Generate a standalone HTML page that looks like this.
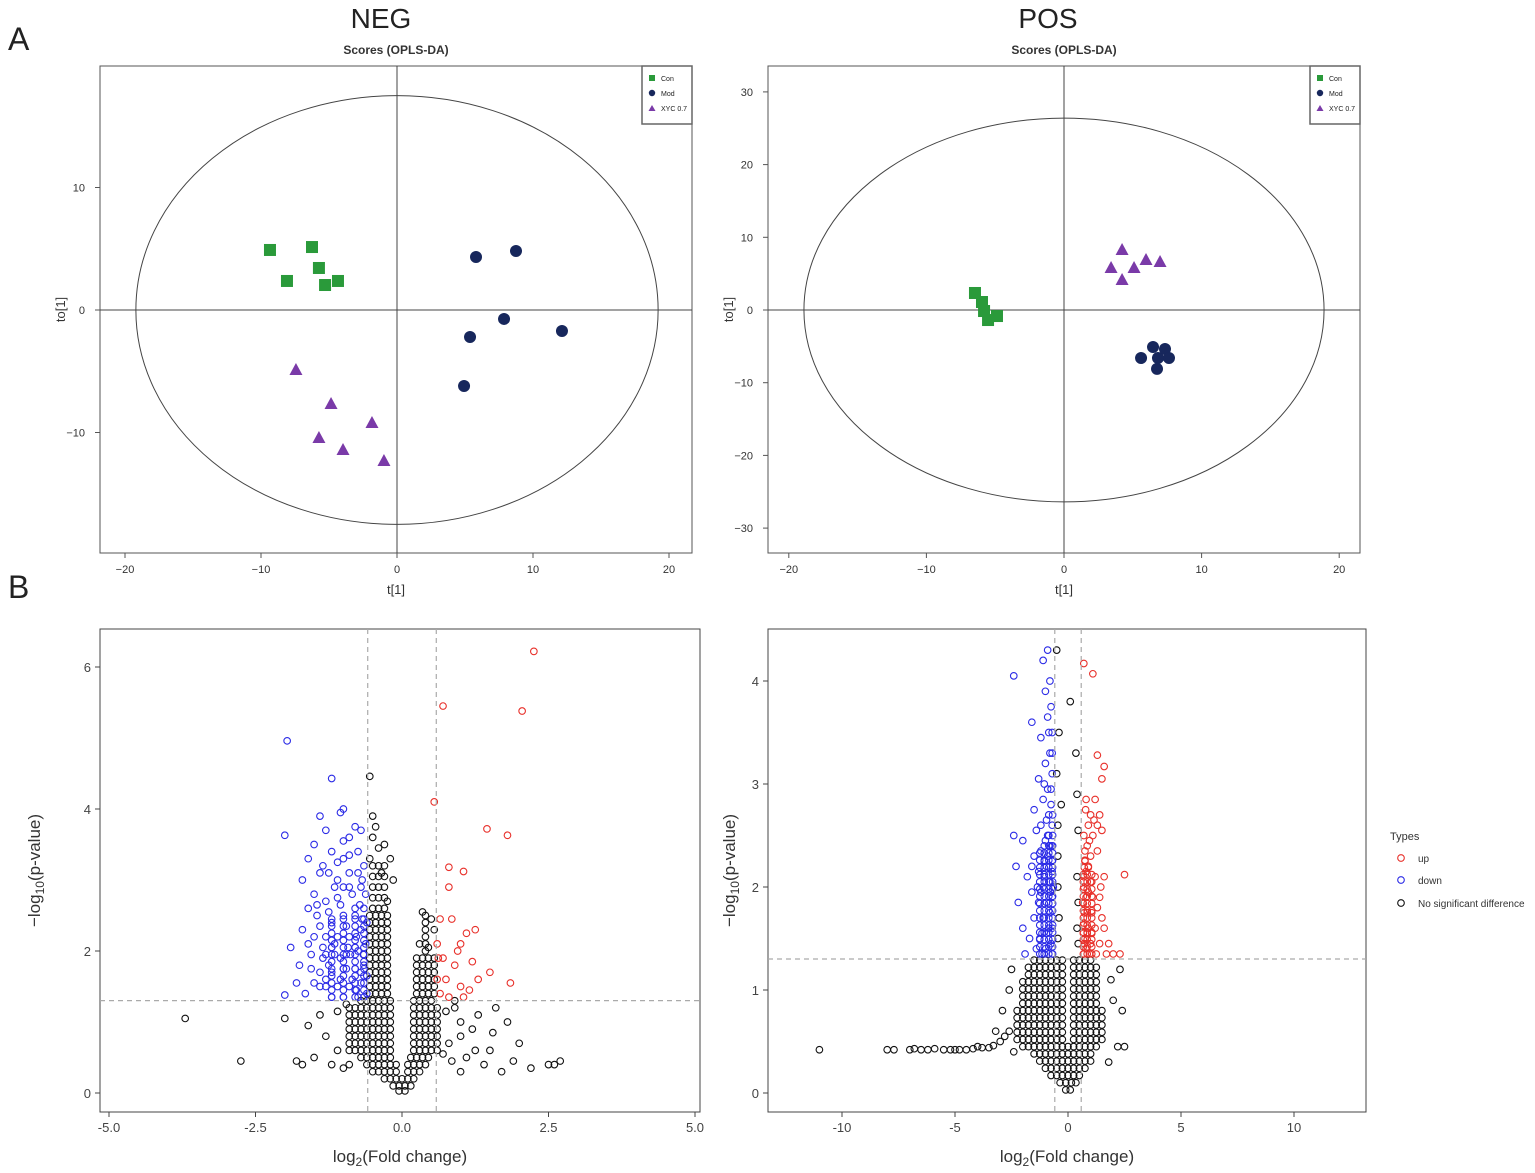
<!DOCTYPE html>
<html><head><meta charset="utf-8"><style>
body{margin:0;background:#fff;}
svg{display:block;font-family:"Liberation Sans",Arial,sans-serif;}
</style></head><body>
<svg id="fig" width="1535" height="1173" viewBox="0 0 1535 1173"></svg>
<script>
// ---------- DATA ----------
const negConX=[-9.34,-6.25,-8.09,-5.74,-5.29,-4.34];
const negConY=[4.9,5.14,2.37,3.43,2.04,2.37];
const negModX=[5.81,8.75,7.87,12.13,5.37,4.93];
const negModY=[4.33,4.82,-0.73,-1.71,-2.2,-6.2];
const negXycX=[-7.43,-4.85,-5.74,-3.97,-1.84,-0.96];
const negXycY=[-4.9,-7.67,-10.45,-11.43,-9.22,-12.33];
const negXTicks=[-20,-10,0,10,20];
const negYTicks=[-10,0,10];
const posConX=[-6.47,-5.96,-5.81,-4.87,-5.52];
const posConY=[2.34,1.1,-0.14,-0.83,-1.38];
const posModX=[5.6,6.47,7.34,6.83,7.63,6.76];
const posModY=[-6.6,-5.09,-5.36,-6.6,-6.6,-8.1];
const posXycX=[3.42,4.22,5.09,5.96,6.98,4.22];
const posXycY=[5.78,8.25,5.78,6.88,6.6,4.13];
const posXTicks=[-20,-10,0,10,20];
const posYTicks=[-30,-20,-10,0,10,20,30];
// Volcano NEG (flat x,y pairs)
const vnRed=[2.25,6.22,0.7,5.45,2.05,5.38,0.55,4.1,1.45,3.72,1.8,3.63,0.8,3.18,1.05,3.12,0.8,2.9,1.25,2.3,0.65,2.45,0.85,2.45,1.1,2.25,1.0,2.1,0.6,2.1,0.7,1.9,0.9,1.8,1.2,1.85,0.75,1.6,1.0,1.5,1.3,1.6,0.6,1.6,0.65,1.4,1.05,1.35,0.8,1.35,1.5,1.7,1.85,1.55,1.15,1.45,0.62,1.9,0.95,2.0];
const vnBlue=[-1.96,4.96,-1.2,4.43,-2.0,3.63,-1.0,4.0,-1.05,3.95,-1.4,3.9,-0.8,3.75,-0.7,3.7,-0.9,3.6,-1.3,3.7,-1.5,3.5,-1.6,3.3,-1.2,3.4,-1.0,3.3,-0.75,3.4,-0.65,3.2,-0.9,3.1,-1.1,3.0,-1.4,3.1,-1.7,3.0,-1.5,2.8,-1.3,2.7,-1.1,2.75,-0.85,2.8,-0.7,2.9,-0.65,2.6,-0.8,2.5,-1.0,2.5,-1.2,2.4,-1.45,2.5,-1.6,2.6,-1.7,2.3,-1.5,2.2,-1.3,2.2,-1.1,2.2,-0.9,2.2,-0.7,2.3,-0.62,2.1,-0.75,2.0,-0.95,1.95,-1.15,1.95,-1.35,1.9,-1.55,1.95,-1.9,2.05,-1.4,1.7,-1.2,1.7,-1.0,1.75,-0.8,1.75,-0.65,1.8,-0.7,1.55,-0.9,1.5,-1.1,1.5,-1.3,1.5,-1.5,1.55,-1.8,1.55,-2.0,1.38,-1.65,1.4,-1.0,1.35,-0.75,1.35,-1.2,1.35,-0.6,1.4,-0.85,1.6,-1.05,1.9,-0.8,2.05,-0.95,2.35,-1.25,2.55,-0.72,2.65,-1.15,2.9,-0.9,2.9,-1.35,3.2,-1.0,3.55,-1.25,3.1,-0.68,3.0,-0.6,2.4,-0.6,1.65,-1.75,1.8,-1.6,2.1,-1.4,2.35,-1.05,2.65,-0.78,2.2,-0.66,1.95,-0.88,1.95,-1.3,1.95,-0.62,2.8,-1.15,2.1,-1.35,2.05,-1.05,1.6,-0.78,1.45,-0.95,1.75,-1.25,1.8,-0.68,2.45,-0.8,2.6,-1.0,2.9,-1.1,3.25,-0.75,3.1,-0.9,3.35,-1.45,2.65,-1.2,2.05,-0.92,2.05,-0.7,1.7,-1.4,1.5,-1.55,1.75,-1.3,1.6];
const vnBlack=[-3.7,1.05,-2.75,0.45,-2.0,1.05,-1.7,0.4,-1.6,0.95,-1.3,0.8,-1.5,0.5,-1.2,0.4,-1.4,1.1,-1.1,0.6,-0.9,0.4,1.0,0.8,1.5,0.6,1.8,1.0,2.2,0.35,2.5,0.4,2.6,0.4,2.7,0.45,1.3,1.1,1.1,0.5,1.7,0.3,0.9,1.2,2.0,0.7,1.2,0.9,1.4,0.4,1.6,1.2,0.85,0.45,1.9,0.45,1.0,0.3,-1.0,0.35,-1.8,0.45,1.55,0.85,1.25,0.6,-0.55,4.46,-0.5,3.9,-0.45,3.75,-0.5,3.6,-0.4,3.45,-0.3,3.5,-0.55,3.3,-0.35,3.1,0.35,2.55,0.5,2.45,0.9,1.3,1.0,1.0,-0.95,1.25,-1.1,1.15,-0.2,3.3,-0.15,3.0,-0.25,2.7,0.3,2.1,0.45,2.05,0.55,2.3,0.75,1.15,0.8,0.7,0.7,0.55];
const vnRowA=[-0.9,-0.8,-0.7,-0.6,-0.5,-0.4,-0.3,-0.2,0.2,0.3,0.4,0.5,0.6];
const vnRowB=[-0.55,-0.45,-0.35,-0.25,0.25,0.35,0.45,0.55];
const vnRowC=[-0.55,-0.45,-0.35,-0.25,0.4];
const vnRowD=[-0.5,-0.4,-0.3];
const vnCoreY=[0.03,0.1,0.2,0.3,0.4,0.5,0.6,0.7,0.8,0.9,1.0,1.1,1.2,1.3,1.4,1.5,1.6,1.7,1.8,1.9,2.0,2.1,2.2,2.3,2.4,2.5,2.6,2.75,2.9,3.05,3.2];
const vnCoreX=[[-0.05,0.05],[-0.15,-0.05,0.05,0.15],[-0.3,-0.2,-0.1,0,0.1,0.2],[-0.5,-0.4,-0.3,-0.2,-0.1,0.1,0.2,0.3],[-0.6,-0.5,-0.4,-0.3,-0.2,-0.1,0.1,0.2,0.3,0.4],[-0.7,-0.6,-0.5,-0.4,-0.3,-0.2,0.15,0.25,0.35,0.45],vnRowA,vnRowA,vnRowA,vnRowA,vnRowA,vnRowA,vnRowA,[-0.7,-0.6,-0.5,-0.4,-0.3,-0.2,0.2,0.3,0.4,0.5],vnRowB,vnRowB,vnRowB,vnRowB,vnRowB,vnRowB,vnRowC,vnRowC,vnRowC,vnRowC,vnRowC,vnRowC,vnRowD,vnRowD,vnRowD,vnRowD,vnRowD];
const vnBlueRow=[-1.2,-1.0,-0.8,-0.65];
const vnBlueCoreY=[1.35,1.45,1.55,1.65,1.75,1.85,1.95,2.05,2.15,2.25,2.35,2.45];
const vnBlueCoreX=[vnBlueRow,vnBlueRow,vnBlueRow,vnBlueRow,vnBlueRow,vnBlueRow,vnBlueRow,vnBlueRow,vnBlueRow,vnBlueRow,vnBlueRow,vnBlueRow];
// Volcano POS
const vpRed=[0.7,4.17,1.1,4.07,1.3,3.28,1.6,3.17,1.5,3.05,0.8,2.85,1.2,2.85,1.0,2.7,1.4,2.7,0.9,2.6,1.3,2.6,0.7,2.5,1.1,2.5,1.5,2.55,0.75,2.35,1.0,2.3,1.3,2.35,2.5,2.12,0.8,2.15,1.2,2.1,1.6,2.1,0.7,2.0,0.9,1.95,1.1,1.9,1.4,1.9,0.65,1.85,0.85,1.75,1.05,1.75,1.3,1.8,0.7,1.65,0.9,1.6,1.2,1.6,1.6,1.6,0.75,1.5,1.0,1.45,1.4,1.45,1.8,1.45,0.7,1.35,0.95,1.35,1.25,1.35,1.7,1.35,2.0,1.35,2.3,1.35,0.8,1.9,0.75,2.25,1.0,2.05,1.15,2.65,0.85,2.4,1.45,2.0,1.5,1.7,0.68,1.55,0.8,1.4,0.72,1.75,0.9,2.2,0.78,2.75,0.95,2.45,0.7,2.1,0.85,1.55,1.05,1.55,0.72,1.45];
const vpBlue=[-0.9,4.3,-1.1,4.2,-2.4,4.05,-0.8,4.0,-1.0,3.9,-1.6,3.6,-0.9,3.65,-0.7,3.5,-1.2,3.45,-0.8,3.3,-1.0,3.2,-0.7,3.1,-1.3,3.05,-0.9,2.95,-1.1,2.85,-0.75,2.8,-1.5,2.75,-0.95,2.65,-1.2,2.6,-0.7,2.6,-1.4,2.55,-2.4,2.5,-2.0,2.45,-1.0,2.45,-0.8,2.4,-1.2,2.35,-1.5,2.3,-0.7,2.25,-0.95,2.2,-1.3,2.15,-1.8,2.1,-0.8,2.05,-1.1,2.0,-1.6,1.95,-0.7,1.9,-0.95,1.85,-1.3,1.85,-2.2,1.85,-0.8,1.75,-1.1,1.7,-1.5,1.7,-2.0,1.6,-0.7,1.6,-0.95,1.55,-1.25,1.5,-1.7,1.5,-0.75,1.45,-1.0,1.4,-1.4,1.4,-1.9,1.35,-0.7,1.35,-1.15,1.35,-0.85,1.6,-0.9,2.3,-1.05,3.0,-0.75,3.75,-1.35,2.0,-1.05,2.1,-0.85,2.7,-1.6,2.2,-2.3,2.2,-1.15,1.55,-0.65,2.0,-0.7,2.15,-0.72,2.4,-0.68,2.7,-0.75,2.95,-0.7,3.3,-0.85,3.5,-0.9,2.5,-0.78,1.95,-1.05,2.25,-1.2,1.95];
const vpBlack=[-11.0,0.42,-8.0,0.42,-7.7,0.42,-7.0,0.42,-6.8,0.43,-6.5,0.42,-6.2,0.42,-5.9,0.43,-5.5,0.42,-5.2,0.42,-5.0,0.42,-4.8,0.42,-4.5,0.42,-4.2,0.43,-4.0,0.45,-3.8,0.44,-3.5,0.44,-3.3,0.46,-3.0,0.5,-2.8,0.55,-2.6,0.6,-2.5,1.2,-2.9,0.8,1.9,1.1,2.2,0.45,2.5,0.45,2.4,0.8,2.0,0.9,2.3,1.2,-0.5,4.3,0.1,3.8,-0.4,3.5,0.35,3.3,-0.5,3.1,0.4,2.9,-0.3,2.8,-0.45,2.6,0.45,2.55,-0.45,2.3,0.4,2.1,-0.45,2.0,0.45,1.85,-0.4,1.7,0.4,1.6,-0.45,1.5,0.45,1.45,-2.6,1.0,-2.4,0.4,1.8,0.3,-3.2,0.6];
const vpRowA=[-2.25,-2,-1.75,-1.5,-1.25,-1,-0.75,-0.5,-0.25,0.25,0.5,0.75,1,1.25,1.5];
const vpRowB=[-2,-1.75,-1.5,-1.25,-1,-0.75,-0.5,-0.25,0.25,0.5,0.75,1,1.25];
const vpRowC=[-1.75,-1.5,-1.25,-1,-0.75,-0.5,-0.25,0.25,0.5,0.75,1,1.25];
const vpCoreY=[0.03,0.1,0.17,0.24,0.31,0.38,0.45,0.52,0.59,0.66,0.73,0.8,0.87,0.94,1.01,1.08,1.15,1.22,1.29];
const vpCoreX=[[-0.1,0.1],[-0.35,-0.1,0.15,0.35],[-0.75,-0.5,-0.25,0,0.25,0.5],[-1,-0.75,-0.5,-0.25,0,0.25,0.5,0.75],[-1.25,-1,-0.75,-0.5,-0.25,0,0.25,0.5,0.75,1],[-1.5,-1.25,-1,-0.75,-0.5,-0.25,0,0.25,0.5,0.75,1],[-2,-1.75,-1.5,-1.25,-1,-0.75,-0.5,-0.25,0,0.25,0.5,0.75,1,1.25],vpRowA,vpRowA,vpRowA,vpRowA,vpRowA,vpRowB,vpRowB,vpRowB,vpRowB,vpRowC,vpRowC,[-1.5,-1.25,-1,-0.75,-0.5,-0.25,0.25,0.5,0.75,1]];
const vpBlueRow=[-1.25,-1.05,-0.85,-0.68];
const vpBlueCoreY=[1.35,1.42,1.49,1.56,1.63,1.7,1.77,1.84,1.91,1.98,2.05,2.12,2.19,2.26,2.33,2.4,2.5];
const vpBlueCoreX=[vpBlueRow,vpBlueRow,vpBlueRow,vpBlueRow,vpBlueRow,vpBlueRow,vpBlueRow,vpBlueRow,vpBlueRow,vpBlueRow,vpBlueRow,vpBlueRow,vpBlueRow,vpBlueRow,vpBlueRow,[-1.05,-0.85,-0.68],[-0.85,-0.68]];
const vpRedRow=[0.68,0.85,1.05];
const vpRedCoreY=[1.35,1.42,1.49,1.56,1.63,1.7,1.77,1.84,1.91,1.98,2.05,2.12,2.19,2.26];
const vpRedCoreX=[vpRedRow,vpRedRow,vpRedRow,vpRedRow,vpRedRow,vpRedRow,vpRedRow,vpRedRow,vpRedRow,vpRedRow,vpRedRow,vpRedRow,[0.72,0.9],[0.75]];
const vnXTicks=[-5,-2.5,0,2.5,5];
const vnXLabels=["-5.0","-2.5","0.0","2.5","5.0"];
const vnYTicks=[0,2,4,6];
const vpXTicks=[-10,-5,0,5,10];
const vpYTicks=[0,1,2,3,4];

// ---------- DRAW ----------
const NS="http://www.w3.org/2000/svg";
const svg=document.getElementById('fig');
function mk(tag,attrs,parent,text){const e=document.createElementNS(NS,tag);for(const k in attrs)e.setAttribute(k,attrs[k]);if(text!==undefined)e.textContent=text;(parent||svg).appendChild(e);return e;}
function txt(x,y,s,size,anchor){return mk('text',{x:x,y:y,'font-size':size,'text-anchor':anchor||'middle',fill:'#222'},svg,s);}

let t;
t=txt(8,50,'A',32,'start');
t=txt(8,598,'B',32,'start');
t=txt(381,28,'NEG',28);
t=txt(1048,28,'POS',28);

function scores(o){
  const g=mk('g',{});
  
  
  const sx=v=>o.x0+v*o.kx, sy=v=>o.y0-v*o.ky;
  mk('rect',{x:o.L,y:o.T,width:o.R-o.L,height:o.B-o.T,fill:'none',stroke:'#555','stroke-width':1},g);
  const tt=mk('text',{x:(o.L+o.R)/2,y:54,'font-size':12,'font-weight':'bold','text-anchor':'middle',fill:'#333'},g,'Scores (OPLS-DA)');
  
  mk('line',{x1:sx(0),x2:sx(0),y1:o.T,y2:o.B,stroke:'#444'},g);
  mk('line',{x1:o.L,x2:o.R,y1:sy(0),y2:sy(0),stroke:'#444'},g);
  const el=mk('ellipse',{cx:sx(0),cy:sy(0),rx:o.ex*o.kx,ry:o.ey*o.ky,fill:'none',stroke:'#444'},g);
  
  o.xt.forEach(v=>{mk('line',{x1:sx(v),x2:sx(v),y1:o.B,y2:o.B+5,stroke:'#555'},g);const l=mk('text',{x:sx(v),y:o.B+20,'font-size':11,'text-anchor':'middle',fill:'#333'},g,String(v).replace('-','−'));});
  o.yt.forEach(v=>{mk('line',{x1:o.L-5,x2:o.L,y1:sy(v),y2:sy(v),stroke:'#555'},g);const l=mk('text',{x:o.L-15,y:sy(v)+4,'font-size':11,'text-anchor':'end',fill:'#333'},g,String(v).replace('-','−'));});
  let a=mk('text',{x:(o.L+o.R)/2,y:594,'font-size':13,'text-anchor':'middle',fill:'#333'},g,'t[1]');
  a=mk('text',{x:0,y:0,'font-size':13,'text-anchor':'middle',fill:'#333',transform:`translate(${o.L-35},${(o.T+o.B)/2}) rotate(-90)`},g,'to[1]');
  o.cx.forEach((v,i)=>{const r=mk('rect',{x:sx(v)-6,y:sy(o.cy[i])-6,width:12,height:12,fill:'#2a9a3a'},g);});
  o.mx.forEach((v,i)=>{const r=mk('circle',{cx:sx(v),cy:sy(o.my[i]),r:6,fill:'#17275c'},g);});
  o.tx.forEach((v,i)=>{const x=sx(v),y=sy(o.ty[i]);const r=mk('polygon',{points:`${x},${y-7} ${x-6.5},${y+5} ${x+6.5},${y+5}`,fill:'#7a3aa8'},g);});
  const lg=mk('g',{},g);
  const lx=o.R-50;
  mk('rect',{x:lx,y:o.T,width:50,height:58,fill:'#fff',stroke:'#666','stroke-width':1.5},lg);
  mk('rect',{x:lx+7,y:o.T+9,width:6,height:6,fill:'#2a9a3a'},lg);
  mk('circle',{cx:lx+10,cy:o.T+27,r:3.2,fill:'#17275c'},lg);
  mk('polygon',{points:`${lx+10},${o.T+39} ${lx+6.5},${o.T+45} ${lx+13.5},${o.T+45}`,fill:'#7a3aa8'},lg);
  mk('text',{x:lx+19,y:o.T+15,'font-size':7,fill:'#222'},lg,'Con');
  mk('text',{x:lx+19,y:o.T+30,'font-size':7,fill:'#222'},lg,'Mod');
  mk('text',{x:lx+19,y:o.T+45,'font-size':7,fill:'#222'},lg,'XYC 0.7');
}
scores({name:'neg-scores-plot',L:100,R:692,T:66,B:553,x0:397,kx:13.6,y0:310,ky:12.25,ex:19.2,ey:17.5,xt:negXTicks,yt:negYTicks,cx:negConX,cy:negConY,mx:negModX,my:negModY,tx:negXycX,ty:negXycY});
scores({name:'pos-scores-plot',L:768,R:1360,T:66,B:553,x0:1064,kx:13.76,y0:310,ky:7.27,ex:18.9,ey:26.4,xt:posXTicks,yt:posYTicks,cx:posConX,cy:posConY,mx:posModX,my:posModY,tx:posXycX,ty:posXycY});

function volcano(o){
  const g=mk('g',{});
  
  
  const sx=v=>o.x0+v*o.kx, sy=v=>o.y0-v*o.ky;
  mk('rect',{x:o.L,y:o.T,width:o.R-o.L,height:o.B-o.T,fill:'#fff',stroke:'#444'},g);
  o.xt.forEach((v,i)=>{mk('line',{x1:sx(v),x2:sx(v),y1:o.B,y2:o.B+5,stroke:'#444'},g);const l=mk('text',{x:sx(v),y:o.B+20,'font-size':13,'text-anchor':'middle',fill:'#444'},g,o.xl?o.xl[i]:String(v));});
  o.yt.forEach(v=>{mk('line',{x1:o.L-5,x2:o.L,y1:sy(v),y2:sy(v),stroke:'#444'},g);const l=mk('text',{x:o.L-9,y:sy(v)+5,'font-size':13,'text-anchor':'end',fill:'#444'},g,String(v));});
  const pt=(x,y,c,nm)=>{const p=mk('circle',{cx:sx(x),cy:sy(y),r:3.3,fill:'none',stroke:c,'stroke-width':1.1},g);};
  const pts=(arr,c,nm)=>{for(let i=0;i<arr.length;i+=2)pt(arr[i],arr[i+1],c,nm);};
  const rows=(ys,xs,c,nm)=>ys.forEach((y,i)=>xs[i].forEach(x=>pt(x,y,c,nm)));
  rows(o.coreY,o.coreX,'#111','nonsig-point');
  pts(o.black,'#111','nonsig-point');
  rows(o.bcY,o.bcX,'#2b2be6','down-point');
  pts(o.blue,'#2b2be6','down-point');
  if(o.rcY)rows(o.rcY,o.rcX,'#e8302a','up-point');
  pts(o.red,'#e8302a','up-point');
  const dash={stroke:'#aaa','stroke-dasharray':'5,4','stroke-width':1.2};
  mk('line',Object.assign({x1:sx(-0.585),x2:sx(-0.585),y1:o.T,y2:o.B},dash),g);
  mk('line',Object.assign({x1:sx(0.585),x2:sx(0.585),y1:o.T,y2:o.B},dash),g);
  mk('line',Object.assign({x1:o.L,x2:o.R,y1:sy(1.301),y2:sy(1.301)},dash),g);
  let a=mk('text',{x:(o.L+o.R)/2,y:1162,'font-size':17,'text-anchor':'middle',fill:'#333'},g);
  a.innerHTML='log<tspan font-size="12" dy="4">2</tspan><tspan dy="-4">(Fold change)</tspan>';
  
  a=mk('text',{x:0,y:0,'font-size':17,'text-anchor':'middle',fill:'#333',transform:`translate(${o.ylx},${(o.T+o.B)/2}) rotate(-90)`},g);
  a.innerHTML='−log<tspan font-size="12" dy="4">10</tspan><tspan dy="-4">(p-value)</tspan>';
  
}
volcano({name:'neg-volcano-plot',L:100,R:700,T:629,B:1112,x0:402,kx:58.6,y0:1093,ky:71,ylx:40,xt:vnXTicks,xl:vnXLabels,yt:vnYTicks,black:vnBlack,blue:vnBlue,red:vnRed,coreY:vnCoreY,coreX:vnCoreX,bcY:vnBlueCoreY,bcX:vnBlueCoreX});
volcano({name:'pos-volcano-plot',L:768,R:1366,T:629,B:1112,x0:1068,kx:22.6,y0:1093,ky:103,ylx:735,xt:vpXTicks,yt:vpYTicks,black:vpBlack,blue:vpBlue,red:vpRed,coreY:vpCoreY,coreX:vpCoreX,bcY:vpBlueCoreY,bcX:vpBlueCoreX,rcY:vpRedCoreY,rcX:vpRedCoreX});

const lg=mk('g',{});


mk('text',{x:1390,y:840,'font-size':11,fill:'#333'},lg,'Types');
[['up','#e8302a',858],['down','#2b2be6',880],['No significant difference','#111',903]].forEach(e=>{
  mk('circle',{cx:1401,cy:e[2],r:3.3,fill:'none',stroke:e[1],'stroke-width':1.1},lg);
  const l=mk('text',{x:1418,y:e[2]+4,'font-size':10,fill:'#333'},lg,e[0]);
  
});
</script>
</body></html>
